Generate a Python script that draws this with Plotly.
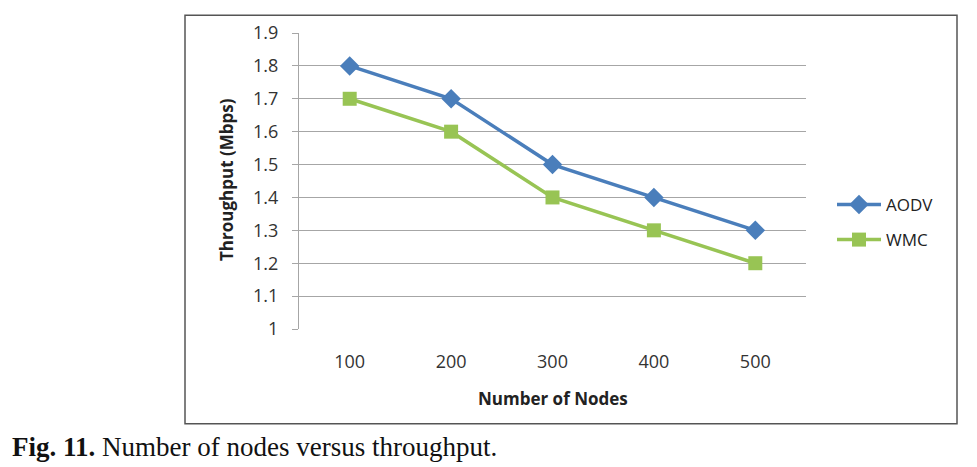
"""Throughput vs number of nodes line chart."""

import plotly.graph_objects as go

nodes = ["100", "200", "300", "400", "500"]
aodv_throughput = [1.8, 1.7, 1.5, 1.4, 1.3]
wmc_throughput = [1.7, 1.6, 1.4, 1.3, 1.2]

# the page body adds an 8px margin, so the figure is drawn 8px smaller
OFF = 8
W, H = 977 - OFF, 467 - OFF
# plot area in page pixels
PL, PR, PT, PB = 299, 806, 29, 329

FONT = "'Open Sans', Lato, sans-serif"


def px(x):
    return (x - PL) / (PR - PL)


def py(y):
    return (PB - y) / (PB - PT)


fig = go.Figure()
fig.add_trace(
    go.Scatter(
        x=nodes,
        y=aodv_throughput,
        mode="lines+markers",
        name="AODV",
        legendgroup="aodv",
        line={"color": "#4A7EBB", "width": 3.5},
        marker={"symbol": "diamond", "size": 15, "color": "#4A7EBB"},
    )
)
fig.add_trace(
    go.Scatter(
        x=nodes,
        y=wmc_throughput,
        mode="lines+markers",
        name="WMC",
        legendgroup="wmc",
        line={"color": "#98C454", "width": 3.5},
        marker={"symbol": "square", "size": 14, "color": "#98C454"},
    )
)

tick_font = {"family": FONT, "size": 18, "color": "#333333"}
title_font = {"family": FONT, "size": 17, "color": "#222222"}

fig.update_layout(
    width=W,
    height=H,
    margin={"l": PL - OFF, "r": W - (PR - OFF), "t": PT - OFF, "b": H - (PB - OFF), "pad": 0},
    paper_bgcolor="white",
    plot_bgcolor="white",
    showlegend=True,
    legend={
        "x": px(832),
        "y": py(221),
        "xanchor": "left",
        "yanchor": "middle",
        "font": {"family": FONT, "size": 17, "color": "#222222"},
        "itemwidth": 44,
        "tracegroupgap": 10,
    },
    xaxis={
        "type": "category",
        "showgrid": False,
        "showline": False,
        "ticks": "",
        "tickfont": tick_font,
        "ticklabelstandoff": 20,
        "range": [-0.5, 4.5],
    },
    yaxis={
        "range": [1, 1.9],
        "dtick": 0.1,
        "showgrid": True,
        "gridcolor": "#A6A6A6",
        "gridwidth": 1,
        "showline": True,
        "linecolor": "#A6A6A6",
        "linewidth": 1,
        "ticks": "outside",
        "ticklen": 6,
        "tickcolor": "#A6A6A6",
        "tickfont": tick_font,
        "ticklabelstandoff": 10,
        "zeroline": False,
    },
    annotations=[
        {
            "text": "<b>Throughput (Mbps)</b>",
            "x": px(226),
            "y": py(178),
            "xref": "paper",
            "yref": "paper",
            "xanchor": "center",
            "yanchor": "middle",
            "textangle": -90,
            "showarrow": False,
            "font": title_font,
        },
        {
            "text": "<b>Number of Nodes</b>",
            "x": px(553),
            "y": py(399),
            "xref": "paper",
            "yref": "paper",
            "xanchor": "center",
            "yanchor": "middle",
            "showarrow": False,
            "font": title_font,
        },
        {
            "text": "<b>Fig. 11.</b> Number of nodes versus throughput.",
            "x": px(10),
            "y": py(449),
            "xref": "paper",
            "yref": "paper",
            "xanchor": "left",
            "yanchor": "middle",
            "showarrow": False,
            "font": {"family": "Liberation Serif, serif", "size": 27, "color": "#111111"},
        },
    ],
    shapes=[
        {
            "type": "rect",
            "xref": "paper",
            "yref": "paper",
            "x0": px(185),
            "x1": px(957),
            "y0": py(425),
            "y1": py(11),
            "line": {"color": "#555555", "width": 1.5},
            "layer": "below",
        }
    ],
)

fig.write_html("out.html")
